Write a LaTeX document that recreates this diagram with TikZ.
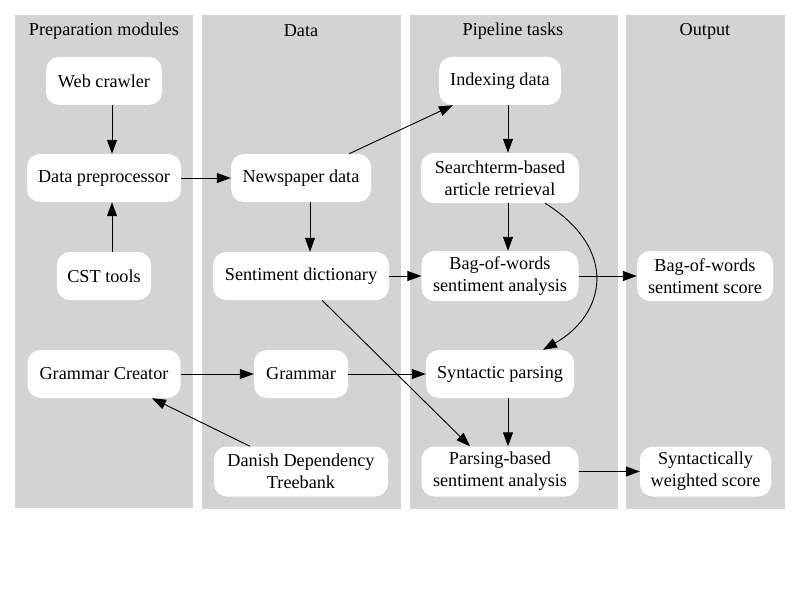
\documentclass[tikz,border=0pt]{standalone}
\usepackage{fontspec}
\setmainfont{Liberation Serif}
\usetikzlibrary{arrows.meta}
\definecolor{clgray}{HTML}{D3D3D3}
\begin{document}
\begin{tikzpicture}[x=1pt,y=-1pt,
  box/.style={rectangle, rounded corners=13pt, fill=white, minimum height=48pt, inner sep=0pt, align=center, font=\fontsize{18.2}{22}\selectfont},
  tall/.style={minimum height=50pt},
  cluster/.style={fill=clgray, draw=clgray},
  ctitle/.style={font=\fontsize{18.2}{22}\selectfont, inner sep=0pt},
  edge/.style={-{Triangle[length=14pt,width=10pt]}, line width=0.9pt}]
\useasboundingbox (0,0) rectangle (800,599);
% clusters
\fill[cluster] (15,15) rectangle (192,507);
\fill[cluster] (202,15) rectangle (400,508);
\fill[cluster] (410,15) rectangle (617,508);
\fill[cluster] (626,15) rectangle (784,508);
\node[ctitle] (t1) at (104,31) {Preparation modules};
\node[ctitle] (t2) at (301,31) {Data};
\node[ctitle] (t3) at (513,31) {Pipeline tasks};
\node[ctitle] (t4) at (705,31) {Output};
% nodes
\node[box, minimum width=116pt] (web) at (104,81) {Web crawler};
\node[box, minimum width=154pt] (pre) at (104,178) {Data preprocessor};
\node[box, minimum width=94pt] (cst) at (104,276) {CST tools};
\node[box, minimum width=153pt] (gc) at (104,374) {Grammar Creator};
\node[box, minimum width=140pt] (news) at (301,178) {Newspaper data};
\node[box, minimum width=176pt] (sent) at (301,276) {Sentiment dictionary};
\node[box, minimum width=94pt] (gram) at (301,374) {Grammar};
\node[box, tall, minimum width=174pt] (ddt) at (301,471.5) {Danish Dependency\\Treebank};
\node[box, minimum width=122pt] (idx) at (500,81) {Indexing data};
\node[box, tall, minimum width=158pt] (search) at (500,178) {Searchterm-based\\article retrieval};
\node[box, tall, minimum width=157pt] (bow) at (500,276) {Bag-of-words\\sentiment analysis};
\node[box, minimum width=148pt] (synt) at (500,374) {Syntactic parsing};
\node[box, tall, minimum width=157pt] (pars) at (500,471.5) {Parsing-based\\sentiment analysis};
\node[box, tall, minimum width=136pt] (bows) at (705,276) {Bag-of-words\\sentiment score};
\node[box, tall, minimum width=131pt] (synw) at (705.5,471.5) {Syntactically\\weighted score};
% edges
\draw[edge] ([xshift=8pt]web.south) -- ([xshift=8pt]pre.north);
\draw[edge] ([xshift=8pt]cst.north) -- ([xshift=8pt]pre.south);
\draw[edge] (pre) -- (news);
\draw[edge] ([xshift=48pt]news.north) -- ([xshift=-47pt]idx.south);
\draw[edge] ([xshift=9pt]news.south) -- ([xshift=9pt]sent.north);
\draw[edge] ([xshift=8pt]idx.south) -- ([xshift=8pt]search.north);
\draw[edge] ([xshift=8pt]search.south) -- ([xshift=8pt]bow.north);
\draw[edge] ([xshift=45pt]search.south) .. controls (620,250) and (605,315) .. ([xshift=43pt]synt.north);
\draw[edge] (sent) -- (bow);
\draw[edge] ([xshift=21pt]sent.south) -- ([xshift=-30pt]pars.north);
\draw[edge] (bow) -- (bows);
\draw[edge] (gc) -- (gram);
\draw[edge] (gram) -- (synt);
\draw[edge] ([xshift=-51pt]ddt.north) -- ([xshift=48pt]gc.south);
\draw[edge] ([xshift=8pt]synt.south) -- ([xshift=8pt]pars.north);
\draw[edge] (pars) -- (synw);
\end{tikzpicture}
\end{document}
